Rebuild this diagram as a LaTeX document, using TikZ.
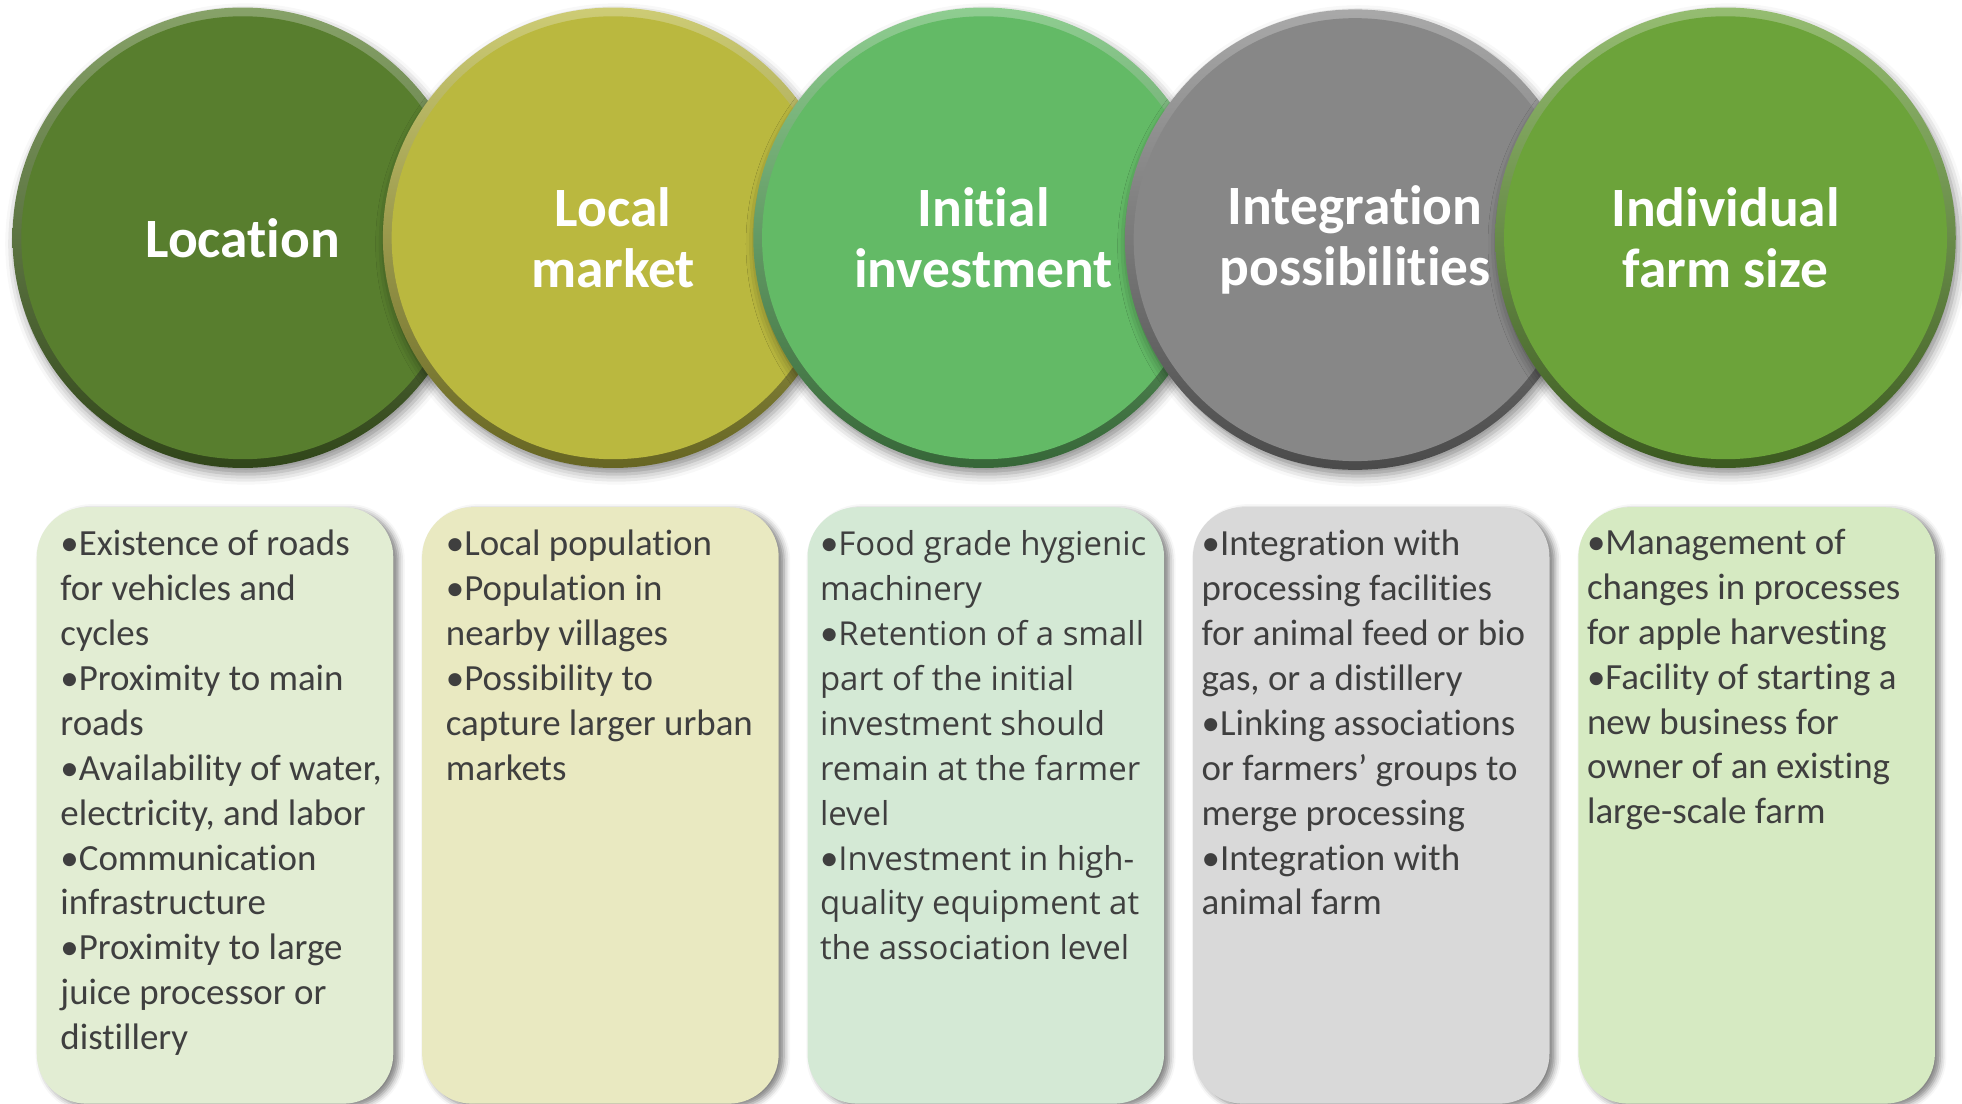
\documentclass[tikz,border=0pt]{standalone}
\usepackage{fontspec}
\setmainfont{Carlito}[Ligatures=NoCommon]
\newfontfamily\carl{Carlito}
\newfontfamily\opensans{Open Sans}
\usetikzlibrary{shadows.blur}
\definecolor{cA}{HTML}{587E2E}
\definecolor{cB}{HTML}{BAB83F}
\definecolor{cC}{HTML}{63BA66}
\definecolor{cD}{HTML}{878787}
\definecolor{cE}{HTML}{6CA33A}
\definecolor{bA}{HTML}{E2EDD3}
\definecolor{bB}{HTML}{E9E9C1}
\definecolor{bC}{HTML}{D4E9D5}
\definecolor{bD}{HTML}{D9D9D9}
\definecolor{bE}{HTML}{D6EAC2}
\definecolor{txt}{HTML}{3F3F3F}
\newcommand\cbul{{\carl\fontsize{17.7}{21.54}\selectfont •}}
\tikzset{
  disc/.style={circle, inner sep=0pt, minimum size=220.8pt,
    top color=#1!72!white, bottom color=#1!55!black,
    blur shadow={shadow xshift=1.5pt, shadow yshift=-3pt, shadow blur radius=5pt, shadow opacity=45},
    path picture={\fill[#1] (path picture bounding box.center) circle (106.2pt);},
    text=white, align=center, font=\fontsize{26.6}{29.4}\selectfont\bfseries},
  card/.style={rounded corners=24pt, fill=#1, anchor=north west, inner sep=0pt,
    minimum width=171pt, minimum height=286pt,
    blur shadow={shadow xshift=2.5pt, shadow yshift=-1.5pt, shadow blur radius=3pt, shadow opacity=50}},
  bodytext/.style={anchor=base west, inner sep=0pt, text=txt, align=left,
    font=\fontsize{17.7}{21.54}\selectfont},
}
\begin{document}
\begin{tikzpicture}[x=0.6pt,y=-0.6pt]
\useasboundingbox (0,0) rectangle (1568,881.5);
% circles
\node[disc=cA] (c1) at (194,190) {Location};
\node[disc=cB] (c2) at (490,190) {Local\\market};
\node[disc=cC] (c3) at (786,190) {Initial\\investment};
\node[disc=cD] (c4) at (1083,191.5) {Integration\\possibilities};
\node[disc=cE] (c5) at (1379,190) {Individual\\farm size};
% cards
\node[card=bA] (b1) at (29,405) {};
\node[card=bB] (b2) at (337,405) {};
\node[card=bC] (b3) at (645,405) {};
\node[card=bD] (b4) at (953,405) {};
\node[card=bE] (b5) at (1261,405) {};
% texts
\node[bodytext] (t1) at (48,444) {\begin{tabular}[t]{@{}l@{}}
•Existence of roads\\
for vehicles and\\
cycles\\
•Proximity to main\\
roads\\
•Availability of water,\\
electricity, and labor\\
•Communication\\
infrastructure\\
•Proximity to large\\
juice processor or\\
distillery
\end{tabular}};
\node[bodytext] (t2) at (356,444) {\begin{tabular}[t]{@{}l@{}}
•Local population\\
•Population in\\
nearby villages\\
•Possibility to\\
capture larger urban\\
markets
\end{tabular}};
\node[bodytext, font=\opensans\fontsize{15.8}{21.54}\selectfont] (t3) at (655,444) {\begin{tabular}[t]{@{}l@{}}
\cbul Food grade hygienic\\
machinery\\
\cbul Retention of a small\\
part of the initial\\
investment should\\
remain at the farmer\\
level\\
\cbul Investment in high-\\
quality equipment at\\
the association level
\end{tabular}};
\node[bodytext] (t4) at (960,444) {\begin{tabular}[t]{@{}l@{}}
•Integration with\\
processing facilities\\
for animal feed or bio\\
gas, or a distillery\\
•Linking associations\\
or farmers’ groups to\\
merge processing\\
•Integration with\\
animal farm
\end{tabular}};
\node[bodytext] (t5) at (1268,443) {\begin{tabular}[t]{@{}l@{}}
•Management of\\
changes in processes\\
for apple harvesting\\
•Facility of starting a\\
new business for\\
owner of an existing\\
large-scale farm
\end{tabular}};
\end{tikzpicture}
\end{document}
